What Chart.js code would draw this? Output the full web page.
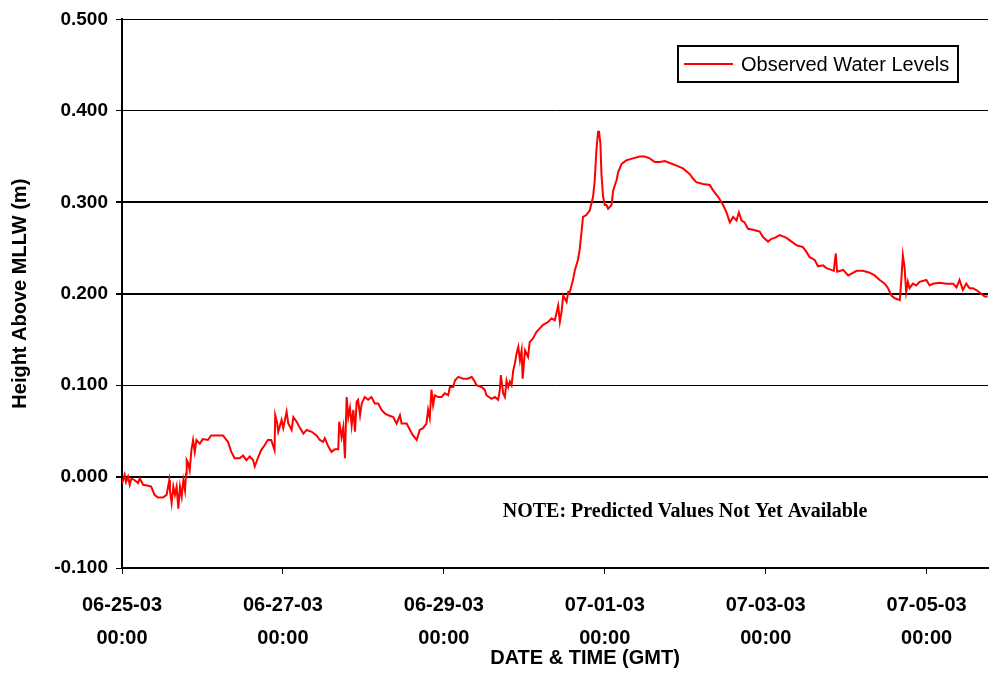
<!DOCTYPE html>
<html>
<head>
<meta charset="utf-8">
<title>Observed Water Levels</title>
<script src="https://cdn.jsdelivr.net/npm/chart.js@4.4.1/dist/chart.umd.min.js"></script>
<style>
  html, body { margin: 0; padding: 0; background: #fff; }
  canvas { display: block; }
</style>
</head>
<body>
<canvas id="waterChart" width="990" height="675"></canvas>
<script>
// Hours since 06-25-03 00:00 GMT
var hours = [
  0.0, 0.8, 1.2, 1.8, 2.3, 2.8, 3.8, 4.8, 5.3, 6.3, 7.8, 8.7, 9.7, 10.7, 12.2, 13.3,
  14.1, 14.3, 14.8, 15.3, 15.8, 16.3, 16.8, 17.3, 17.8, 18.3, 18.8, 19.1, 19.3, 19.7,
  20.2, 20.7, 21.2, 21.7, 22.2, 23.2, 24.1, 25.6, 26.6, 28.6, 30.1, 31.6, 32.6, 33.6,
  35.1, 36.1, 37.1, 38.1, 39.1, 39.6, 40.5, 41.5, 42.5, 43.5, 44.5, 45.5, 45.7, 46.3,
  46.6, 47.6, 48.1, 49.1, 49.6, 50.6, 51.1, 52.1, 53.1, 54.1, 55.1, 56.6, 58.0, 59.0,
  60.0, 60.5, 61.5, 62.5, 63.5, 64.5, 64.8, 65.5, 66.0, 66.5, 67.0, 67.5, 68.0, 68.5,
  69.0, 69.5, 70.0, 70.4, 71.0, 71.5, 72.4, 73.4, 74.4, 75.4, 76.4, 77.4, 78.4, 79.4,
  80.9, 81.9, 82.9, 83.4, 84.9, 85.9, 86.8, 87.9, 88.8, 89.8, 90.8, 91.3, 91.8, 92.3,
  92.8, 93.3, 94.3, 95.3, 96.3, 97.3, 97.8, 98.8, 99.3, 100.3, 101.8, 103.2, 104.3, 105.2,
  105.7, 107.2, 108.2, 108.7, 110.2, 111.2, 112.2, 112.7, 113.0, 113.7, 114.2, 114.7, 115.2, 115.7,
  116.2, 116.7, 117.2, 117.7, 118.2, 118.7, 119.2, 119.5, 120.2, 121.1, 121.6, 122.6, 123.6, 124.6,
  125.6, 127.1, 128.1, 129.1, 130.1, 130.6, 131.1, 131.6, 132.6, 133.1, 133.6, 134.5, 135.1, 136.0,
  136.5, 137.1, 137.5, 138.5, 139.5, 140.5, 141.0, 141.5, 142.0, 142.3, 142.7, 143.0, 143.5, 144.0,
  144.5, 145.0, 146.0, 146.5, 147.5, 148.0, 149.0, 150.5, 152.4, 154.4, 155.9, 157.4, 158.9, 160.4,
  161.9, 163.4, 165.4, 167.3, 169.3, 170.3, 171.3, 173.3, 175.3, 176.3, 177.8, 179.3, 180.3, 181.3,
  182.3, 183.3, 184.0, 184.8, 185.7, 186.7, 188.2, 190.2, 191.2, 192.7, 193.7, 194.7, 196.2, 198.2,
  199.7, 201.2, 203.1, 204.1, 205.1, 206.6, 207.6, 209.1, 210.1, 211.6, 212.3, 212.9, 213.3, 215.1,
  216.6, 217.6, 219.1, 221.0, 223.0, 224.5, 226.0, 227.5, 228.5, 229.5, 230.5, 232.0, 232.5, 232.9,
  233.4, 233.9, 234.4, 234.9, 235.9, 236.9, 237.9, 239.9, 240.9, 241.9, 243.9, 245.9, 247.9, 248.9,
  249.8, 250.8, 251.8, 252.8, 253.8, 254.8, 256.3, 257.3, 258.2
];

// Observed water level, metres above MLLW
var observed = [
  -0.008, 0.002, -0.006, 0.000, -0.009, -0.002, -0.004, -0.007, -0.002, -0.009, -0.010, -0.011, -0.020, -0.023, -0.023, -0.020,
  -0.004, -0.015, -0.029, -0.011, -0.020, -0.011, -0.035, -0.011, -0.022, -0.004, -0.015, 0.003, 0.018, 0.015,
  0.007, 0.029, 0.040, 0.027, 0.040, 0.036, 0.041, 0.040, 0.045, 0.045, 0.045, 0.038, 0.027, 0.020,
  0.020, 0.023, 0.018, 0.022, 0.018, 0.011, 0.020, 0.029, 0.034, 0.040, 0.040, 0.029, 0.067, 0.058,
  0.049, 0.062, 0.053, 0.071, 0.058, 0.051, 0.065, 0.060, 0.053, 0.047, 0.051, 0.049, 0.045, 0.040,
  0.038, 0.042, 0.033, 0.027, 0.030, 0.030, 0.060, 0.043, 0.054, 0.020, 0.087, 0.065, 0.075, 0.056,
  0.073, 0.049, 0.082, 0.084, 0.067, 0.080, 0.087, 0.084, 0.087, 0.080, 0.080, 0.073, 0.069, 0.067,
  0.065, 0.058, 0.067, 0.058, 0.058, 0.051, 0.045, 0.040, 0.051, 0.053, 0.058, 0.073, 0.064, 0.095,
  0.078, 0.089, 0.087, 0.087, 0.091, 0.089, 0.098, 0.098, 0.105, 0.109, 0.107, 0.107, 0.109, 0.104,
  0.100, 0.098, 0.095, 0.089, 0.085, 0.087, 0.084, 0.095, 0.111, 0.091, 0.087, 0.105, 0.098, 0.104,
  0.100, 0.116, 0.124, 0.135, 0.142, 0.127, 0.138, 0.107, 0.138, 0.131, 0.147, 0.151, 0.158, 0.162,
  0.166, 0.169, 0.173, 0.171, 0.187, 0.169, 0.180, 0.198, 0.191, 0.202, 0.202, 0.215, 0.226, 0.237,
  0.248, 0.269, 0.284, 0.286, 0.291, 0.306, 0.324, 0.357, 0.377, 0.377, 0.364, 0.331, 0.306, 0.297,
  0.297, 0.293, 0.297, 0.313, 0.324, 0.333, 0.342, 0.346, 0.348, 0.350, 0.350, 0.348, 0.344, 0.344,
  0.345, 0.343, 0.340, 0.337, 0.331, 0.326, 0.322, 0.320, 0.319, 0.313, 0.306, 0.297, 0.289, 0.278,
  0.284, 0.280, 0.289, 0.280, 0.278, 0.271, 0.270, 0.268, 0.262, 0.257, 0.260, 0.261, 0.264, 0.261,
  0.257, 0.253, 0.251, 0.246, 0.240, 0.237, 0.230, 0.231, 0.228, 0.226, 0.225, 0.244, 0.224, 0.226,
  0.220, 0.222, 0.225, 0.225, 0.223, 0.220, 0.215, 0.211, 0.206, 0.198, 0.195, 0.193, 0.218, 0.242,
  0.229, 0.202, 0.213, 0.206, 0.211, 0.209, 0.213, 0.215, 0.209, 0.211, 0.212, 0.211, 0.211, 0.207,
  0.215, 0.204, 0.211, 0.206, 0.206, 0.204, 0.200, 0.197, 0.197
];

// x axis ticks (every 2 days) and their labels
var tickHours = [0, 48, 96, 144, 192, 240];
var tickDates = ['06-25-03', '06-27-03', '06-29-03', '07-01-03', '07-03-03', '07-05-03'];
var tickTime = '00:00';

var seriesLabel = 'Observed Water Levels';
var noteText = 'NOTE: Predicted Values Not Yet Available';
var xTitle = 'DATE & TIME (GMT)';
var yTitle = 'Height Above MLLW (m)';

var sans = "'Liberation Sans', Arial, Helvetica, sans-serif";
var serif = "'Liberation Serif', 'Times New Roman', serif";

// build point list from the arrays
var points = hours.map(function (h, i) {
    return { x: h, y: observed[i] };
});

// Draws the boxed legend, the x title and the note
var extras = {
    id: 'extras',
    afterDraw: function (chart) {
        var ctx = chart.ctx;
        ctx.save();

        // legend box
        ctx.fillStyle = '#fff';
        ctx.fillRect(678, 46, 280, 36);
        ctx.strokeStyle = '#000';
        ctx.lineWidth = 2;
        ctx.strokeRect(678, 46, 280, 36);
        ctx.strokeStyle = '#ff0000';
        ctx.beginPath();
        ctx.moveTo(684, 64);
        ctx.lineTo(733, 64);
        ctx.stroke();
        ctx.fillStyle = '#000';
        ctx.font = '20px ' + sans;
        ctx.textAlign = 'left';
        ctx.textBaseline = 'middle';
        ctx.fillText(seriesLabel, 741, 65);

        // x axis title
        ctx.font = 'bold 20px ' + sans;
        ctx.textAlign = 'center';
        ctx.fillText(xTitle, 585, 658);

        // note
        ctx.font = 'bold 20px ' + serif;
        ctx.fillText(noteText, 685, 512);

        ctx.restore();
    }
};

var ctx = document.getElementById('waterChart').getContext('2d');
var waterChart = new Chart(ctx, {
    type: 'line',
    data: {
        datasets: [{
            label: seriesLabel,
            data: points,
            borderColor: '#ff0000',
            borderWidth: 2,
            pointRadius: 0,
            tension: 0,
            fill: false
        }]
    },
    options: {
        responsive: false,
        animation: false,
        devicePixelRatio: 1,
        layout: { padding: { top: 19, right: 2, left: 0, bottom: 0 } },
        plugins: {
            legend: { display: false },
            tooltip: { enabled: false }
        },
        scales: {
            x: {
                type: 'linear',
                min: 0,
                max: 258.3,
                border: { display: true, color: '#000', width: 2 },
                grid: { drawOnChartArea: false, drawTicks: true, tickLength: 6, color: '#000', lineWidth: 1 },
                ticks: {
                    color: '#000',
                    padding: 15,
                    maxRotation: 0,
                    font: { family: sans, size: 20, weight: 'bold', lineHeight: 1.65 },
                    callback: function (value, index) {
                        return [tickDates[index], tickTime];
                    }
                },
                afterBuildTicks: function (scale) {
                    scale.ticks = tickHours.map(function (h) { return { value: h }; });
                },
                afterFit: function (scale) {
                    scale.height = 107;
                }
            },
            y: {
                min: -0.1,
                max: 0.5,
                border: { display: true, color: '#000', width: 2 },
                grid: {
                    color: '#000',
                    tickLength: 6,
                    lineWidth: function (c) {
                        var v = Math.round(c.tick.value * 1000);
                        return (v === 0 || v === 200 || v === 300) ? 2 : 1;
                    }
                },
                ticks: {
                    stepSize: 0.1,
                    color: '#000',
                    padding: 8,
                    font: { family: sans, size: 19, weight: 'bold' },
                    callback: function (value) {
                        if (Math.abs(value) < 1e-9) value = 0;
                        return value.toFixed(3);
                    }
                },
                title: {
                    display: true,
                    text: yTitle,
                    color: '#000',
                    padding: { top: 8, bottom: 0 },
                    font: { family: sans, size: 20, weight: 'bold' }
                },
                afterFit: function (scale) {
                    scale.width = 122;
                }
            }
        }
    },
    plugins: [extras]
});
</script>
</body>
</html>
